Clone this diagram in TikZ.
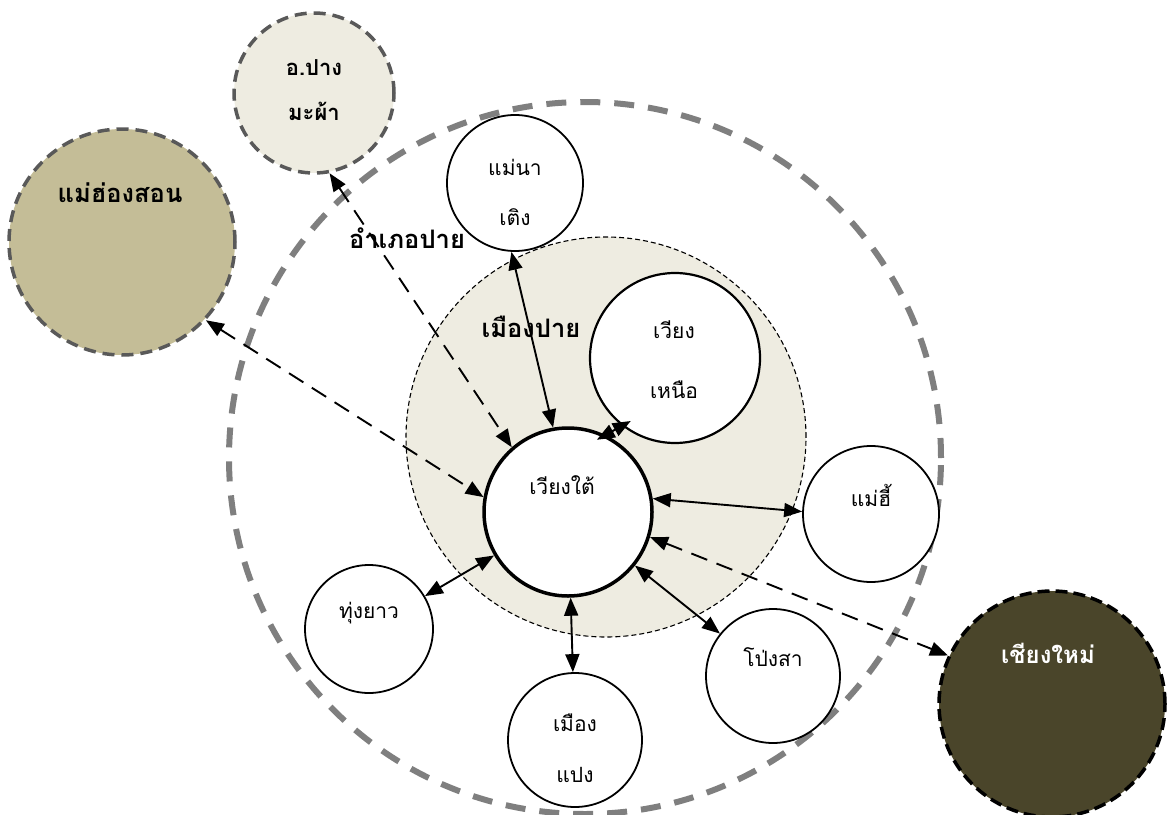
\documentclass[tikz,border=0pt]{standalone}
\usepackage{fontspec}
\newfontfamily\thai[Script=Thai]{Loma}
\usetikzlibrary{arrows.meta}
\definecolor{eggshell}{HTML}{EEECE1}
\definecolor{tanfill}{HTML}{C4BD97}
\definecolor{darkolive}{HTML}{4A452A}
\definecolor{biggray}{HTML}{7F7F7F}
\definecolor{bordergray}{HTML}{595959}
\begin{document}
\begin{tikzpicture}[x=1pt,y=-1pt,
  place/.style={circle,draw=black,line width=1.8pt,fill=white,inner sep=0pt},
  reg/.style={font=\thai\fontsize{21}{24}\selectfont, inner sep=0pt, align=center},
  bld/.style={font=\thai\bfseries\fontsize{25.5}{28}\selectfont, inner sep=0pt, align=center},
  link/.style={line width=1.9pt, {Triangle[length=18pt,width=14pt]}-{Triangle[length=18pt,width=14pt]}},
  dlink/.style={link, dash pattern=on 17pt off 10pt},
  outer/.style={circle, inner sep=0pt, line width=3.5pt, dash pattern=on 12pt off 7pt},
]
\useasboundingbox (0,0) rectangle (1170,814);
% district circle
\node[circle, inner sep=0pt, draw=biggray, line width=6pt, dash pattern=on 20pt off 14pt, minimum size=712pt] (amphoe) at (585,458) {};
% town circle
\node[circle, inner sep=0pt, draw=black, fill=eggshell, line width=1.1pt, dash pattern=on 5pt off 3pt, minimum size=400pt] (muang) at (606,437) {};
% places
\node[place, line width=3.5pt, minimum size=168pt] (wt) at (568,512) {};
\node[place, line width=2.2pt, minimum size=170pt] (wn) at (675,358) {};
\node[place, minimum size=136pt] (mnt) at (515,183) {};
\node[place, minimum size=136pt] (mh) at (871,514) {};
\node[place, minimum size=128pt] (ty) at (369,629) {};
\node[place, minimum size=134pt] (mp) at (575,740) {};
\node[place, minimum size=134pt] (ps) at (773,676) {};
\node[outer, draw=bordergray, fill=eggshell, minimum size=160pt] (pm) at (314,93) {};
\node[outer, draw=bordergray, fill=tanfill, minimum size=226pt] (mhs) at (122,242) {};
\node[outer, draw=black, fill=darkolive, dash pattern=on 12pt off 6pt, minimum size=226pt] (chm) at (1052,704) {};
% labels
\node[bld, font=\thai\bfseries\fontsize{22}{45}\selectfont] (pmlab) at (314,90) {อ.ปาง\\มะผ้า};
\node[bld] (mhslab) at (120,193) {แม่ฮ่องสอน};
\node[bld] (amphoelab) at (407,238) {อำเภอปาย};
\node[bld] (muanglab) at (531,327) {เมืองปาย};
\node[bld, font=\thai\bfseries\fontsize{24}{28}\selectfont, text=white] (chmlab) at (1048,653) {เชียงใหม่};
\node[reg, font=\thai\fontsize{21}{60}\selectfont] (wnlab) at (674,360) {เวียง\\เหนือ};
\node[reg] (wtlab) at (562,485) {เวียงใต้};
\node[reg, font=\thai\fontsize{21}{50}\selectfont] (mntlab) at (515,192) {แม่นา\\เติง};
\node[reg] (mhlab) at (871,495) {แม่ฮี้};
\node[reg] (tylab) at (369,613) {ทุ่งยาว};
\node[reg, font=\thai\fontsize{21}{51}\selectfont] (mplab) at (575,748) {เมือง\\แปง};
\node[reg] (pslab) at (773,657) {โป่งสา};
% connectors
\draw[link] (mnt.267) -- (wt.100);
\draw[link, shorten <=-10pt, shorten >=-10pt] (wn.232) -- (wt.64);
\draw[link] (wt.9) -- (mh.178);
\draw[link] (wt) -- (ty);
\draw[link] (wt) -- (mp);
\draw[link] (wt) -- (ps);
\draw[dlink] (pm.281) -- (wt.131);
\draw[dlink] (mhs.317) -- (wt.170);
\draw[dlink] (wt.343) -- (chm.155);
\end{tikzpicture}
\end{document}
